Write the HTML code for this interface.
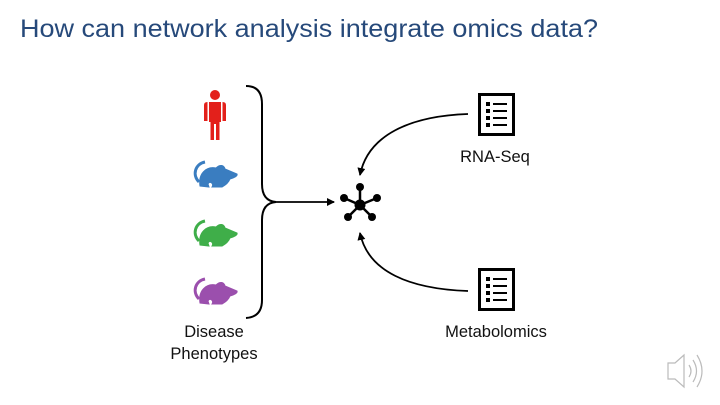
<!DOCTYPE html>
<html><head><style>
body{margin:0;background:#fff;}
svg{display:block;}
</style></head><body>
<svg width="720" height="405" viewBox="0 0 720 405" xmlns="http://www.w3.org/2000/svg" font-family="Liberation Sans, sans-serif">
<defs>
<marker id="ah" markerWidth="8" markerHeight="8" refX="7" refY="4" orient="auto" markerUnits="userSpaceOnUse">
<path d="M0,0 L8,4 L0,8 Z" fill="#000"/>
</marker>
<g id="mouse">
<path d="M7,22 C0,15 3,4 13,2" fill="none" stroke-width="3"/>
<path d="M8,26 C6,14 14,6 24,8 C28,4 32,5 33,9 L45,14 C46,16 42,18 38,19 C36,24 32,26 30,27 L20,27 C22,24 18,20 16,24 L17,27 Z" />
</g>
<g id="doc">
<rect x="1.5" y="1.5" width="34" height="40" fill="none" stroke="#000" stroke-width="3"/>
<rect x="8" y="9" width="4" height="4" fill="#000"/><rect x="15" y="10" width="14" height="2" fill="#000"/>
<rect x="8" y="16" width="4" height="4" fill="#000"/><rect x="15" y="17" width="14" height="2" fill="#000"/>
<rect x="8" y="23" width="4" height="4" fill="#000"/><rect x="15" y="24" width="14" height="2" fill="#000"/>
<rect x="8" y="30" width="4" height="4" fill="#000"/><rect x="15" y="31" width="14" height="2" fill="#000"/>
</g>
</defs>
<text x="20" y="37" font-size="25" fill="#26497a" textLength="578" lengthAdjust="spacingAndGlyphs">How can network analysis integrate omics data?</text>

<!-- human -->
<g fill="#e3201b">
<circle cx="215" cy="95" r="5"/>
<path d="M209,102 H221 V122 H219.5 V140 H216 V124 H214 V140 H210.5 V122 H209 Z"/>
<path d="M204,105 Q204,102 207.5,102 V121 H204 Z"/>
<path d="M226,105 Q226,102 222.5,102 V121 H226 Z"/>
</g>
<use href="#mouse" x="192" y="160" fill="#3a7dc0" stroke="#3a7dc0"/>
<use href="#mouse" x="192" y="219" fill="#3fae49" stroke="#3fae49"/>
<use href="#mouse" x="192" y="277" fill="#9b4fad" stroke="#9b4fad"/>

<!-- bracket -->
<path d="M246,86 Q262,86 262,104 V184 Q262,201 276,202 Q262,203 262,220 V300 Q262,317 246,318" fill="none" stroke="#000" stroke-width="2"/>
<line x1="276" y1="202" x2="334" y2="202" stroke="#000" stroke-width="1.8" marker-end="url(#ah)"/>

<!-- network -->
<g stroke="#000" stroke-width="2.5">
<line x1="360" y1="205" x2="360" y2="187"/><line x1="360" y1="205" x2="344" y2="198"/>
<line x1="360" y1="205" x2="377" y2="198"/><line x1="360" y1="205" x2="348" y2="217"/>
<line x1="360" y1="205" x2="372" y2="217"/>
</g>
<g fill="#000">
<circle cx="360" cy="205" r="5.5"/><circle cx="360" cy="187" r="4"/><circle cx="344" cy="198" r="4"/>
<circle cx="377" cy="198" r="4"/><circle cx="348" cy="217" r="4"/><circle cx="372" cy="217" r="4"/>
</g>

<path d="M468,114 C410,116 368,135 360,175" fill="none" stroke="#000" stroke-width="1.8" marker-end="url(#ah)"/>
<path d="M468,291 C410,289 368,272 360,233" fill="none" stroke="#000" stroke-width="1.8" marker-end="url(#ah)"/>

<use href="#doc" x="478" y="93"/>
<use href="#doc" x="478" y="268"/>

<g font-size="16.5" fill="#111" text-anchor="middle">
<text x="495" y="162">RNA-Seq</text>
<text x="496" y="337">Metabolomics</text>
<text x="214" y="337">Disease</text>
<text x="214" y="359">Phenotypes</text>
</g>

<!-- speaker -->
<g fill="none" stroke="#bbb" stroke-width="1.2">
<path d="M668,363 H675 L684,355 V387 L675,379 H668 Z"/>
<path d="M689,365 Q693,371 689,377"/>
<path d="M693,360 Q700,371 693,382"/>
<path d="M697,355 Q707,371 697,387"/>
</g>
</svg>
</body></html>
